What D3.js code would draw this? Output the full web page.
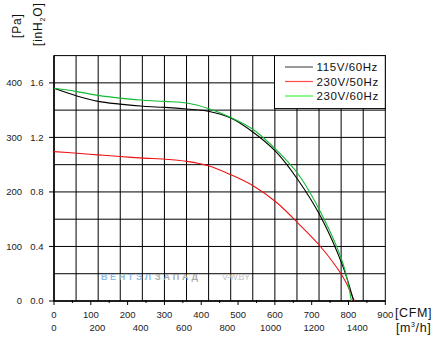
<!DOCTYPE html>
<html><head><meta charset="utf-8">
<script src="https://cdn.jsdelivr.net/npm/d3@7"></script>
<style>
html,body{margin:0;padding:0;background:#fff;}
svg{display:block;font-family:"Liberation Sans",Arial,sans-serif;}
</style></head>
<body>
<svg id="c" width="441" height="339"></svg>
<script>
// ---- data ----
const seriesNames = ["115V/60Hz", "230V/50Hz", "230V/60Hz"];
const seriesColors = ["#000000", "#ee1111", "#11bb33"];
const cfm115_60 = [0, 62, 120, 179, 243, 302, 361, 419, 479, 542, 604, 664, 725, 785, 814];
const pa115_60  = [390, 376, 366, 361, 357, 355, 352, 348, 336, 309, 273, 221, 154, 63, 0];
const cfm230_50 = [0, 62, 120, 179, 243, 302, 361, 419, 479, 542, 604, 664, 725, 785, 816];
const pa230_50  = [274, 271, 268, 265, 262, 260, 256, 248, 232, 211, 181, 142, 99, 44, 0];
const cfm230_60 = [0, 62, 120, 179, 243, 302, 361, 419, 479, 542, 604, 664, 725, 785, 808];
const pa230_60  = [390, 384, 377, 372, 368, 366, 363, 353, 337, 314, 277, 232, 162, 69, 0];
const paTicks   = [0, 100, 200, 300, 400];
const inh2oTicks = ["0.0", "0.4", "0.8", "1.2", "1.6"];
const cfmTicks  = [0, 100, 200, 300, 400, 500, 600, 700, 800, 900];
const m3hTicks  = [0, 200, 400, 600, 800, 1000, 1200, 1400];

const CFM_TO_M3H = 1.699;

const svg = d3.select("#c");
const x = d3.scaleLinear().domain([0, 900]).range([54, 385.3]);
const y = d3.scaleLinear().domain([0, 450]).range([301, 55.6]);

// grid: 15 columns, 9 rows
const g = svg.append("g");
const nCols = 15, nRows = 9;
for (let i = 1; i < nCols; i++) {
  const xv = x(900 * i / nCols);
  g.append("line").attr("x1", xv).attr("x2", xv).attr("y1", y(0)).attr("y2", y(450))
    .attr("stroke", "#000").attr("stroke-width", 1);
}
for (let j = 1; j < nRows; j++) {
  const yv = y(450 * j / nRows);
  g.append("line").attr("x1", x(0)).attr("x2", x(900)).attr("y1", yv).attr("y2", yv)
    .attr("stroke", "#000").attr("stroke-width", 1);
}
// frame
g.append("rect").attr("x", x(0)).attr("y", y(450)).attr("width", x(900) - x(0)).attr("height", y(0) - y(450))
  .attr("fill", "none").attr("stroke", "#000").attr("stroke-width", 1);
g.append("line").attr("x1", x(0)).attr("x2", x(0)).attr("y1", y(0)).attr("y2", y(450)).attr("stroke", "#000").attr("stroke-width", 1.5);
g.append("line").attr("x1", x(0)).attr("x2", x(900)).attr("y1", y(0)).attr("y2", y(0)).attr("stroke", "#000").attr("stroke-width", 1.5);

// watermark
const wm = svg.append("g").attr("font-weight", "bold").attr("font-size", 9);
wm.append("text").attr("x", 101).attr("y", 279.5).attr("fill", "#8dbbe6")
  .attr("textLength", 50).attr("lengthAdjust", "spacing").text("ВЕНТЭЛ");
wm.append("text").attr("x", 155).attr("y", 279.5).attr("fill", "#a8a8a8")
  .attr("textLength", 43).attr("lengthAdjust", "spacing").text("ЗАПАД");
wm.append("text").attr("x", 222).attr("y", 279.5).attr("fill", "#c4c4c4").attr("font-weight", "normal")
  .attr("textLength", 28).attr("lengthAdjust", "spacing").text("V-W.BY");

// curves
const line = d3.line().x(d => x(d[0])).y(d => y(d[1])).curve(d3.curveCatmullRom.alpha(0.5));
const seriesData = [
  d3.zip(cfm115_60, pa115_60),
  d3.zip(cfm230_50, pa230_50),
  d3.zip(cfm230_60, pa230_60)
];
[1, 0, 2].forEach(i => {
  svg.append("path").attr("d", line(seriesData[i])).attr("fill", "none")
    .attr("stroke", seriesColors[i]).attr("stroke-width", 1.1);
});

// left axis ticks & labels
const lab = svg.append("g").attr("font-size", 9.5).attr("fill", "#222");
paTicks.forEach((p, i) => {
  const yv = y(p);
  svg.append("line").attr("x1", x(0) - 5).attr("x2", x(0)).attr("y1", yv).attr("y2", yv).attr("stroke", "#000");
  lab.append("text").attr("x", 22).attr("y", yv + 3.3).attr("text-anchor", "end").text(p);
  lab.append("text").attr("x", 43.5).attr("y", yv + 3.3).attr("text-anchor", "end").text(inh2oTicks[i]);
});

// bottom axis ticks & labels
cfmTicks.forEach(c => {
  svg.append("line").attr("x1", x(c)).attr("x2", x(c)).attr("y1", y(0)).attr("y2", y(0) + 4).attr("stroke", "#000");
  lab.append("text").attr("x", x(c)).attr("y", 317.5).attr("text-anchor", "middle").text(c);
});
cfmTicks.slice(0, -1).forEach(c => {
  const m = c + 50;
  svg.append("line").attr("x1", x(m)).attr("x2", x(m)).attr("y1", y(0) - 1).attr("y2", y(0) + 2).attr("stroke", "#000");
});
m3hTicks.forEach(m => {
  lab.append("text").attr("x", x(m / CFM_TO_M3H)).attr("y", 331).attr("text-anchor", "middle").text(m);
});

// axis titles
const t = svg.append("g").attr("font-size", 12.5).attr("fill", "#111").attr("letter-spacing", 0.6);
t.append("text").attr("x", 395).attr("y", 316.5).text("[CFM]");
const m3 = t.append("text").attr("x", 396).attr("y", 331.5);
m3.append("tspan").text("[m");
m3.append("tspan").attr("font-size", 7).attr("dy", -5).text("3");
m3.append("tspan").attr("dy", 5).text("/h]");

const tp = svg.append("g").attr("font-size", 12).attr("fill", "#111").attr("letter-spacing", 0.8);
tp.append("text").attr("transform", "translate(20.5,38) rotate(-90)").text("[Pa]");
const ti = tp.append("text").attr("transform", "translate(42,46) rotate(-90)");
ti.append("tspan").text("[inH");
ti.append("tspan").attr("font-size", 7).attr("dy", 3).text("2");
ti.append("tspan").attr("dy", -3).text("O]");

// legend
const lg = svg.append("g");
lg.append("rect").attr("x", 274.5).attr("y", 55.6).attr("width", 385.3 - 274.5).attr("height", 53)
  .attr("fill", "#fff").attr("stroke", "#000").attr("stroke-width", 1);
seriesNames.forEach((n, i) => {
  const yv = 67 + i * 14.5;
  lg.append("line").attr("x1", 285).attr("x2", 313).attr("y1", yv).attr("y2", yv)
    .attr("stroke", i === 0 ? "#555" : (i === 1 ? "#ff4d4d" : "#44ee44")).attr("stroke-width", 1.2);
  lg.append("text").attr("x", 316.5).attr("y", yv + 4.2).attr("font-size", 11.5).attr("letter-spacing", 0.6)
    .attr("fill", "#111").text(n);
});
</script>
</body></html>
